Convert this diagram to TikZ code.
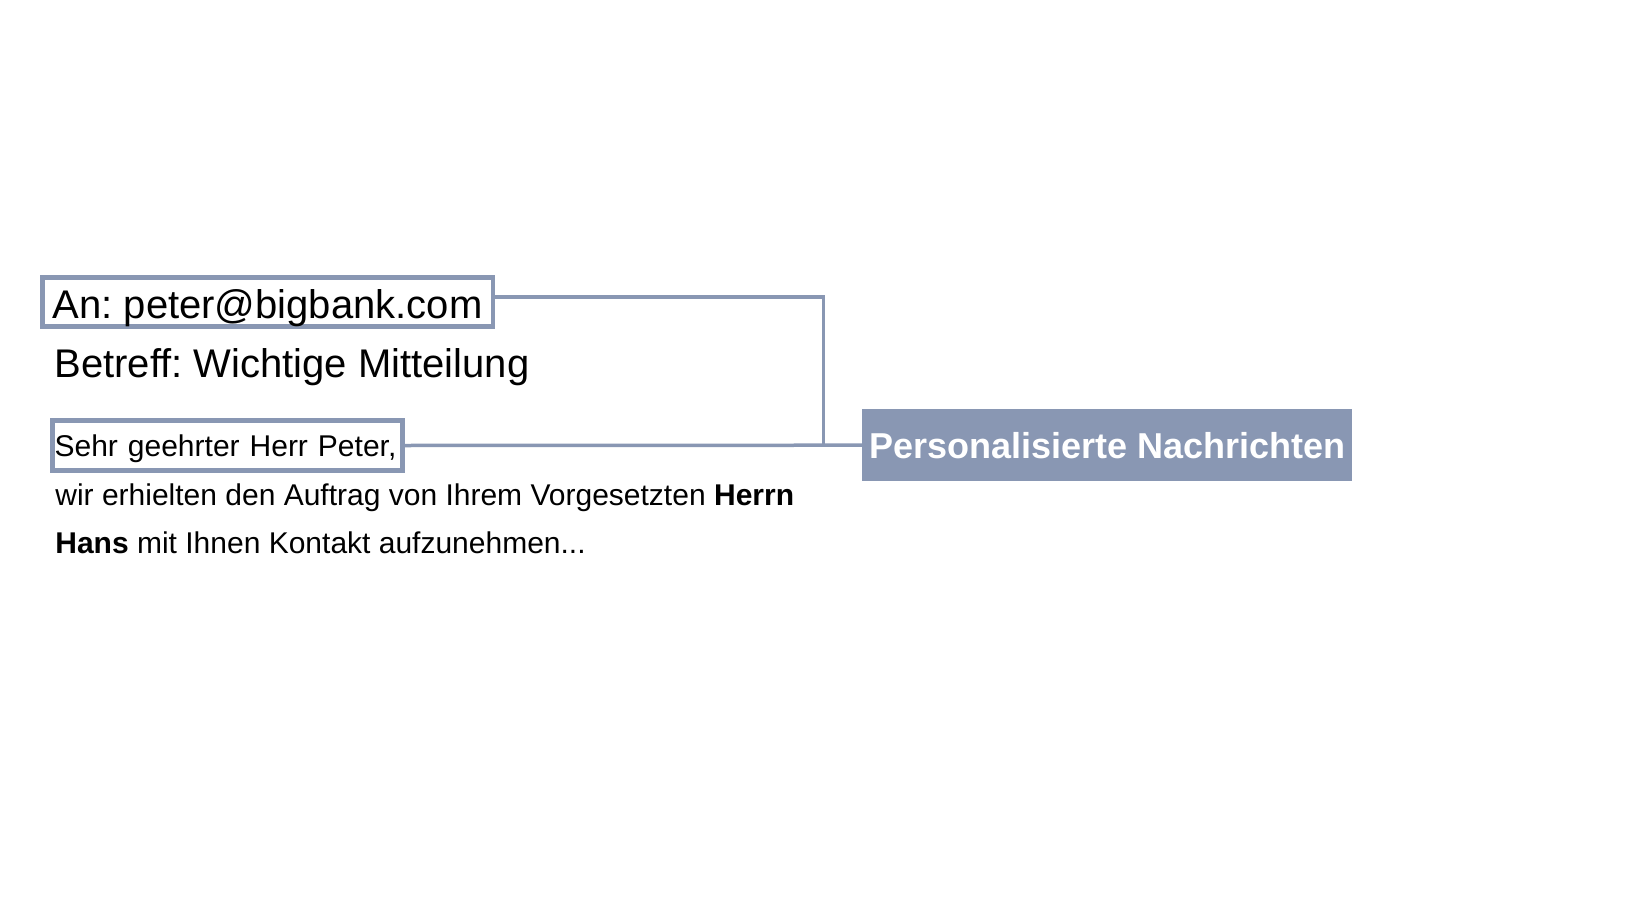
\documentclass[tikz,border=0pt]{standalone}
\usepackage{fontspec}
\setmainfont{Liberation Sans}[Ligatures=NoCommon]
\frenchspacing
\usetikzlibrary{calc,positioning}
\definecolor{mailblue}{RGB}{137,151,179}

\begin{document}
\begin{tikzpicture}[x=0.5pt,y=-0.5pt,
    field/.style={draw=mailblue, line width=2.25pt, inner ysep=0pt, outer sep=0pt, anchor=base west},
    plain/.style={inner sep=0pt, anchor=base west},
    link/.style={draw=mailblue, line width=1.75pt}]
  \useasboundingbox (0,0) rectangle (1647,920);
  \node (to) [field, inner xsep=5.2pt, text height=20.35pt, text depth=4.35pt,
    font=\fontsize{20pt}{24pt}\selectfont] at (42.3,318) {An: peter@bigbank.com};
  \node (subject) [plain, font=\fontsize{20pt}{24pt}\selectfont] at (54,377) {Betreff: Wichtige Mitteilung};
  \node (greet) [field, inner xsep=1.15pt, text width=172.8pt, align=left, text height=18.05pt,
    text depth=6.85pt, font=\fontsize{15pt}{24pt}\selectfont] at (52.3,456.7) {Sehr geehrter Herr Peter,};
  \node (body1) [plain, font=\fontsize{15pt}{24pt}\selectfont] at (55,505)
    {wir erhielten den Auftrag von Ihrem Vorgesetzten \textbf{Herrn}};
  \node (body2) [plain, font=\fontsize{15pt}{24pt}\selectfont] at ([yshift=-24pt]body1.base west)
    {\textbf{Hans} mit Ihnen Kontakt aufzunehmen...};
  \node (tag) [fill=mailblue, text=white, inner sep=0pt, minimum width=244.85pt, minimum height=35.85pt,
    font=\bfseries\fontsize{18pt}{22pt}\selectfont] at (1107.2,445.2) {Personalisierte Nachrichten};
  \coordinate (hub) at (823.5,445.5);
  \draw[link] ([yshift=2.5pt]to.east) -| (hub);
  \draw[link] (greet.east) -- (tag.west);
\end{tikzpicture}
\end{document}
